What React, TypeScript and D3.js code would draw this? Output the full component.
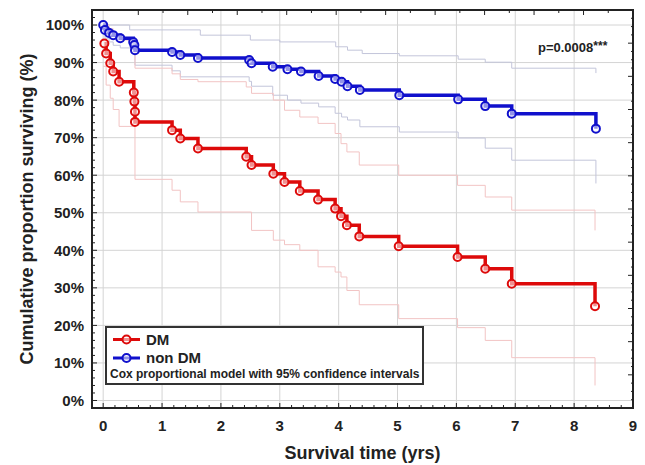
import * as d3 from 'd3';

// Kaplan-Meier style survival data (years, % surviving)
const nonDmTime = [0, 0.03, 0.1, 0.17, 0.29, 0.51, 0.53, 0.54, 1.17, 1.31, 1.61, 2.48, 2.52, 2.88, 3.13, 3.36, 3.66, 3.94, 4.05, 4.15, 4.36, 5.03, 6.03, 6.49, 6.94, 8.37];
const nonDmSurv = [100, 98.7, 97.9, 97.3, 96.5, 95.5, 94.7, 93.3, 92.8, 92.0, 91.2, 90.7, 89.8, 88.9, 88.2, 87.6, 86.4, 85.6, 84.9, 83.7, 82.7, 81.3, 80.2, 78.4, 76.4, 72.4];

const dmTime = [0.02, 0.05, 0.12, 0.17, 0.27, 0.52, 0.53, 0.54, 0.54, 1.17, 1.31, 1.61, 2.43, 2.52, 2.89, 3.08, 3.34, 3.65, 3.94, 4.04, 4.14, 4.35, 5.02, 6.02, 6.49, 6.94, 8.355];
const dmSurv = [95.1, 92.4, 89.8, 87.6, 84.9, 82.0, 79.6, 76.9, 74.2, 72.0, 69.8, 67.1, 64.9, 62.7, 60.4, 58.2, 55.8, 53.5, 51.1, 49.1, 46.7, 43.7, 41.1, 38.2, 35.1, 31.1, 25.1];

// 95% confidence bands
const nonDmUpper: [number, number][] = [[0, 100], [0.45, 98.7], [1.65, 97.3], [2.5, 96], [3.0, 95.5], [3.95, 94.2], [4.15, 93.3], [4.4, 92.4], [5.03, 91.8], [6.03, 90.9], [6.49, 90.1], [6.94, 88.5], [8.37, 87.2]];
const nonDmLower: [number, number][] = [[0, 100], [0.03, 96.5], [0.1, 95.5], [0.17, 94.6], [0.29, 93.9], [0.54, 89.3], [1.17, 87.8], [1.31, 86.2], [2.48, 85], [2.52, 83.7], [2.88, 81.3], [3.13, 80], [3.36, 79.2], [3.66, 78.2], [3.94, 76.5], [4.05, 75.5], [4.15, 74.7], [4.36, 72.9], [5.03, 71.5], [6.03, 69.9], [6.49, 67.2], [6.94, 64], [8.37, 57.8]];
const dmUpper: [number, number][] = [[0, 100], [0.1, 99], [0.17, 97.5], [0.27, 96], [0.54, 88.5], [1.17, 87], [1.31, 85.5], [1.61, 84.9], [2.43, 83.5], [2.52, 81.8], [2.89, 80], [3.08, 77.3], [3.34, 75.5], [3.65, 73.8], [3.94, 71.1], [4.04, 68.4], [4.14, 66.2], [4.35, 62.7], [5.02, 60], [6.02, 57.3], [6.49, 54.2], [6.94, 50.7], [8.355, 45.3]];
const dmLower: [number, number][] = [[0, 89], [0.05, 84], [0.12, 80.5], [0.17, 77.5], [0.27, 73], [0.54, 58.9], [1.17, 56], [1.31, 52.9], [1.61, 50.2], [2.52, 45.3], [2.89, 42.7], [3.08, 41.5], [3.34, 40], [3.65, 35.6], [3.94, 34.2], [4.04, 32.9], [4.14, 29.3], [4.35, 25.5], [5.02, 21.8], [6.02, 19.4], [6.49, 16], [6.94, 11.4], [8.355, 4]];

const xTicks = [0, 1, 2, 3, 4, 5, 6, 7, 8, 9];
const yTicks = [0, 10, 20, 30, 40, 50, 60, 70, 80, 90, 100];

const RED = '#dd0a0a';
const BLUE = '#1010cc';
const FONT = "'Liberation Sans', Arial, sans-serif";

function App() {
    const left = 92, right = 633, top = 10, bottom = 408;
    const x = d3.scaleLinear().domain([-0.19, 9]).range([left, right]);
    const y = d3.scaleLinear().domain([-2, 104]).range([bottom, top]);

    // step line
    const line = d3.line<[number, number]>()
        .x(d => x(d[0]))
        .y(d => y(d[1]))
        .curve(d3.curveStepAfter);

    const nonDm = nonDmTime.map((t, i) => [t, nonDmSurv[i]] as [number, number]);
    const dm = dmTime.map((t, i) => [t, dmSurv[i]] as [number, number]);

    // decorative ticks on the mirrored top / right frame edges
    const topTick = d3.scaleLinear().domain([0, 10]).range([138.3, 633]);
    const rightTick = d3.scaleLinear().domain([0, 12]).range([top, bottom]);

    const minorX = d3.range(0, 9.01, 0.2);
    const minorY = d3.range(0, 104, 2);

    return (
        <div style={{ position: 'fixed', left: 0, top: 0 }}>
            <svg width={645} height={465} style={{ display: 'block', background: '#fff' }} fontFamily={FONT}>
                {/* grid */}
                <g stroke="#d4d4d4" strokeWidth={1}>
                    {xTicks.filter(d => d < 9).map(d => (
                        <line key={'gx' + d} x1={x(d)} x2={x(d)} y1={top} y2={bottom} />
                    ))}
                    {yTicks.map(d => (
                        <line key={'gy' + d} x1={left} x2={right} y1={y(d)} y2={y(d)} />
                    ))}
                </g>

                {/* confidence intervals */}
                <g fill="none" strokeWidth={1}>
                    <path d={line(nonDmUpper) || ''} stroke="#c3c5da" />
                    <path d={line(nonDmLower) || ''} stroke="#c3c5da" />
                    <path d={line(dmUpper) || ''} stroke="#f2c4c4" />
                    <path d={line(dmLower) || ''} stroke="#f2c4c4" />
                </g>

                {/* survival curves */}
                <path d={line(nonDm) || ''} fill="none" stroke={BLUE} strokeWidth={3.5} />
                <path d={line(dm) || ''} fill="none" stroke={RED} strokeWidth={3.5} />
                {nonDm.map((d, i) => (
                    <circle key={'cb' + i} cx={x(d[0])} cy={y(d[1])} r={4} fill="#fff" fillOpacity={0.55} stroke={BLUE} strokeWidth={2} />
                ))}
                {dm.map((d, i) => (
                    <circle key={'cr' + i} cx={x(d[0])} cy={y(d[1])} r={4} fill="#fff" fillOpacity={0.55} stroke={RED} strokeWidth={2} />
                ))}

                {/* frame */}
                <rect x={left} y={top} width={right - left} height={bottom - top} fill="none" stroke="#222" strokeWidth={2} />

                {/* ticks */}
                <g stroke="#222" strokeWidth={1}>
                    {minorX.map((d, i) => (
                        <line key={'mx' + i} x1={x(d)} x2={x(d)} y1={bottom} y2={bottom - (i % 5 === 0 ? 5 : 3)} />
                    ))}
                    {minorY.map((d, i) => (
                        <line key={'my' + i} x1={left} x2={left + (i % 5 === 0 ? 5 : 3)} y1={y(d)} y2={y(d)} />
                    ))}
                    {d3.range(0, 10.01, 0.5).map((d, i) => (
                        <line key={'tt' + i} x1={topTick(d)} x2={topTick(d)} y1={top} y2={top + (i % 2 === 0 ? 5 : 3)} />
                    ))}
                    {d3.range(0, 12.01, 0.25).map((d, i) => (
                        <line key={'rt' + i} x1={right} x2={right - (i % 4 === 0 ? 5 : 2)} y1={rightTick(d)} y2={rightTick(d)} />
                    ))}
                </g>

                {/* tick labels */}
                <g fontSize={15} fontWeight="bold" fill="#222">
                    {yTicks.map(d => (
                        <text key={'ly' + d} x={84} y={y(d)} dy="0.36em" textAnchor="end">{d + '%'}</text>
                    ))}
                    {xTicks.map(d => (
                        <text key={'lx' + d} x={x(d)} y={431} textAnchor="middle">{d}</text>
                    ))}
                </g>

                {/* axis titles */}
                <text x={(left + right) / 2} y={459} textAnchor="middle" fontSize={18} fontWeight="bold" fill="#222">Survival time (yrs)</text>
                <text transform={`translate(33, ${(top + bottom) / 2}) rotate(-90)`} textAnchor="middle" fontSize={18} fontWeight="bold" fill="#222">Cumulative proportion surviving (%)</text>

                {/* p value */}
                <text x={538} y={52} fontSize={13} fontWeight="bold" fill="#222">
                    p=0.0008<tspan dy={-2} fontSize={12}>***</tspan>
                </text>

                {/* legend */}
                <g>
                    <rect x={106} y={327} width={317} height={57} fill="#fff" stroke="#333" strokeWidth={2} />
                    <line x1={113} x2={140} y1={339.5} y2={339.5} stroke={RED} strokeWidth={3} />
                    <circle cx={126.5} cy={339.5} r={4} fill="#fff" fillOpacity={0.55} stroke={RED} strokeWidth={2} />
                    <text x={146} y={344.5} fontSize={15} fontWeight="bold" fill="#222">DM</text>
                    <line x1={113} x2={140} y1={358} y2={358} stroke={BLUE} strokeWidth={3} />
                    <circle cx={126.5} cy={358} r={4} fill="#fff" fillOpacity={0.55} stroke={BLUE} strokeWidth={2} />
                    <text x={146} y={363} fontSize={15} fontWeight="bold" fill="#222">non DM</text>
                    <text x={110} y={378} fontSize={12} fontWeight="bold" fill="#222">Cox proportional model with 95% confidence intervals</text>
                </g>
            </svg>
        </div>
    );
}

export default App;
